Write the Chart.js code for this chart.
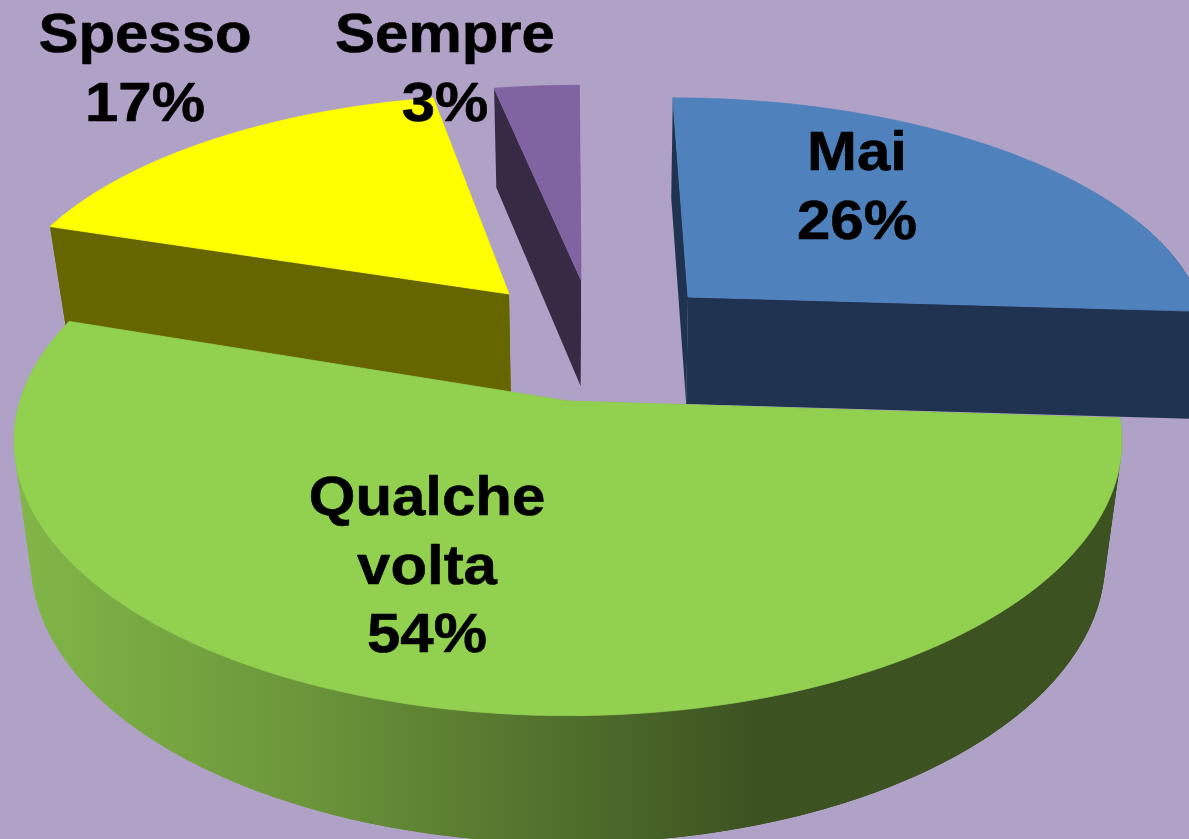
<!DOCTYPE html>
<html><head><meta charset="utf-8">
<style>html,body{margin:0;padding:0;background:#b0a1c6;overflow:hidden}canvas{display:block}</style>
<script src="https://cdn.jsdelivr.net/npm/chart.js@4"></script>
</head><body><canvas id="c" width="1189" height="839"></canvas>
<script>
const categories = ['Mai', 'Qualche volta', 'Spesso', 'Sempre'];
const values = [26, 54, 17, 3];
const labelLines = [['Mai', '26%'], ['Qualche', 'volta', '54%'], ['Spesso', '17%'], ['Sempre', '3%']];
const topColors = ['#4f81bd', '#92d050', '#ffff00', '#8064a2'];
const wallColors = ['#1f3350', null, '#666600', '#362a44'];
// Perspective view of each exploded slice: apex, radii, wall depth
const sliceViews = [
  {ax: 688, ay: 297, A: 510, B: 228, D: 107, f: 0.985},
  {ax: 568, ay: 401, A: 548, B: 269, D: 118, f: 0.97},
  {ax: 509, ay: 294, A: 507, B: 228, D: 101, f: 0.97},
  {ax: 581, ay: 280, A: 520, B: 223, D: 106, f: 0.97}
];
const labelAnchors = [[857, 170], [427, 515], [145, 52], [445, 52]];
const PERSP = 0.145, VX = 568, LINE = 68.5;

function project(view, theta) {
  const u = Math.sin(theta), v = -Math.cos(theta);
  const w = 1 / (1 - PERSP * v);
  return [view.ax + view.A * u * w + (view.ax - VX) * (w - 1), view.ay + view.B * v * w, w, v];
}
function lower(view, p) {
  return [VX + (p[0] - VX) * view.f, p[1] + view.D * Math.sqrt(p[2])];
}
function fillPoly(ctx, pts, style) {
  ctx.beginPath();
  pts.forEach((p, i) => i ? ctx.lineTo(p[0], p[1]) : ctx.moveTo(p[0], p[1]));
  ctx.closePath();
  ctx.fillStyle = style;
  ctx.fill();
}
const pie3d = {
  id: 'pie3d',
  beforeDatasetsDraw(chart) {
    const ctx = chart.ctx;
    const arcs = chart.getDatasetMeta(0).data;
    const grad = ctx.createLinearGradient(20, 0, 760, 0);
    grad.addColorStop(0, '#82b648');
    grad.addColorStop(0.38, '#6b963a');
    grad.addColorStop(1, '#3c5221');
    [3, 2, 0, 1].forEach(i => {
      const arc = arcs[i], view = sliceViews[i];
      const a0 = arc.startAngle + Math.PI / 2, a1 = arc.endAngle + Math.PI / 2;
      const n = Math.max(8, Math.ceil((a1 - a0) / 0.012));
      const rim = [];
      for (let k = 0; k <= n; k++) rim.push(project(view, a0 + (a1 - a0) * k / n));
      const apex = [view.ax, view.ay, 1, 0];
      const wall = wallColors[i] || grad;
      ctx.save();
      [rim[0], rim[n]].forEach(p =>
        fillPoly(ctx, [apex, p, lower(view, p), lower(view, apex)], wall));
      const front = rim.filter(p => p[3] > -0.35);
      if (front.length > 1) {
        fillPoly(ctx, [...front, ...front.slice().reverse().map(p => lower(view, p))], wall);
        // overlapping strips fill the fold where the wall turns out of sight
        for (let k = 0; k + 6 < front.length; k += 3) {
          const p = front[k], q = front[k + 6];
          fillPoly(ctx, [p, q, lower(view, q), lower(view, p)], wall);
        }
      }
      fillPoly(ctx, [apex, ...rim], topColors[i]);
      ctx.strokeStyle = topColors[i];
      ctx.lineWidth = 0.8;
      ctx.stroke();
      ctx.restore();
    });
    ctx.save();
    ctx.fillStyle = '#000';
    ctx.strokeStyle = '#000';
    ctx.lineWidth = 0.6;
    ctx.lineJoin = 'round';
    ctx.font = 'bold 56px "Liberation Sans", Arial, sans-serif';
    ctx.textAlign = 'center';
    ctx.textBaseline = 'alphabetic';
    labelLines.forEach((lines, i) => lines.forEach((t, j) => {
      ctx.save();
      ctx.translate(labelAnchors[i][0], labelAnchors[i][1] + j * LINE);
      ctx.scale(1.07, 1);
      ctx.fillText(t, 0, 0);
      ctx.strokeText(t, 0, 0);
      ctx.restore();
    }));
    ctx.restore();
    return false;
  }
};
new Chart(document.getElementById('c'), {
  type: 'pie',
  data: {labels: categories, datasets: [{data: values, backgroundColor: topColors, borderWidth: 0}]},
  options: {
    responsive: false, animation: false, rotation: 0,
    plugins: {legend: {display: false}, tooltip: {enabled: false}}
  },
  plugins: [pie3d]
});
</script></body></html>
